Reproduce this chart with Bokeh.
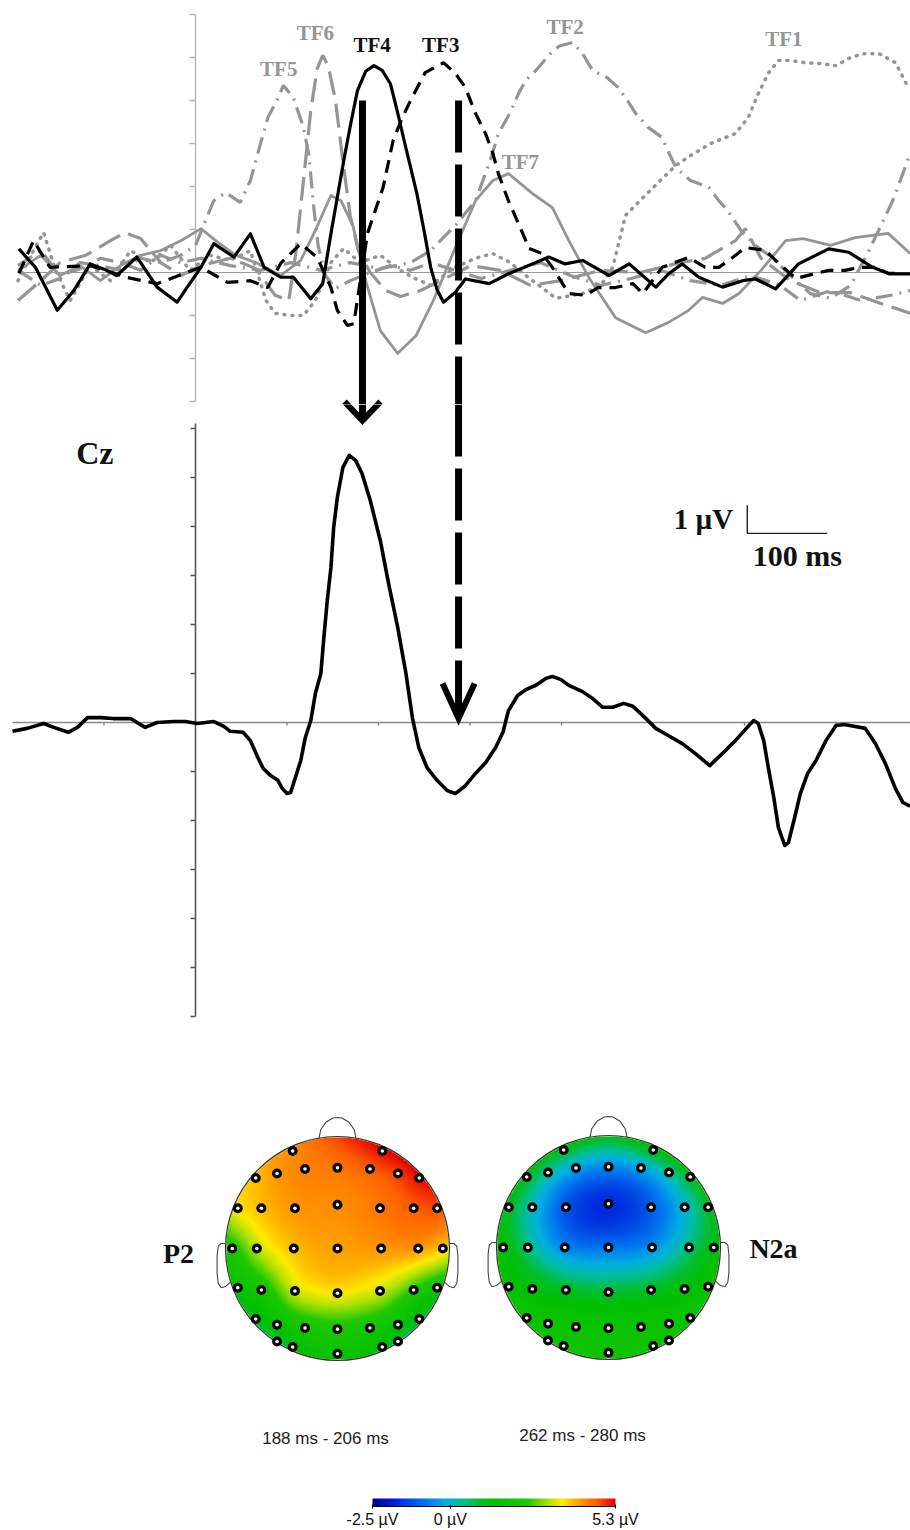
import numpy as np
from bokeh.plotting import figure
from bokeh.layouts import column
from bokeh.models import Range1d, LinearColorMapper
from bokeh.core.properties import value
from bokeh.embed import file_html
from bokeh.resources import INLINE

# ======================= DATA =======================
# Temporal factors (ms, µV), top panel
tf4_t = [-193, -175, -151, -133, -115, -97, -86, -64, -42, -20,
         -9, 6, 20, 42, 60, 75, 93, 107, 126, 139,
         148, 155, 162, 170, 177, 186, 195, 204, 213, 220,
         228, 235, 242, 250, 257, 264, 271, 284, 295, 321,
         342, 368, 386, 404, 423, 452, 474, 503, 517, 532,
         550, 576, 598, 612, 634, 659, 692, 714, 740, 758, 781]
tf4_v = [0.55, 0.12, -0.88, -0.42, 0.20, 0.05, -0.07, 0.36, -0.34, -0.69,
         -0.34, 0.12, 0.67, 0.36, 0.90, 0.12, -0.11, -0.11, -0.61, -0.26,
         0.90, 1.75, 2.60, 3.50, 4.23, 4.68, 4.81, 4.70, 4.39, 3.80,
         3.07, 2.45, 1.83, 0.95, 0.12, -0.40, -0.69, -0.46, -0.15, -0.26,
         -0.03, 0.20, 0.36, 0.20, 0.28, -0.07, 0.20, -0.34, -0.03, 0.20,
         -0.11, -0.34, -0.19, -0.15, -0.38, 0.20, 0.55, 0.47, 0.12, -0.03, -0.03]

tf3_t = [-193, -177, -159, -115, -74, -42, 6, 35, 60, 79,
         93, 115, 133, 148, 155, 166, 173, 188, 205, 216,
         226, 235, 251, 271, 284, 295, 306, 317, 325, 331,
         342, 350, 361, 364, 379, 390, 397, 408, 426, 440,
         459, 478, 489, 510, 539, 557, 572, 587, 601, 623,
         634, 656, 678, 692, 710, 725, 743, 757, 773]
tf3_v = [-0.02, 0.74, 0.12, 0.16, -0.12, -0.26, 0.12, -0.23, -0.19, -0.35,
         0.21, 0.67, 0.35, -0.35, -0.88, -1.23, -1.19, 0.91, 1.98, 3.07,
         3.60, 4.00, 4.65, 4.88, 4.63, 4.30, 3.70, 3.23, 2.77, 2.30,
         1.67, 1.28, 0.74, 0.56, 0.44, 0.12, -0.12, -0.49, -0.53, -0.35,
         -0.35, -0.26, -0.49, 0.12, 0.35, 0.12, 0.12, 0.35, 0.58, 0.51,
         0.28, -0.14, -0.02, 0.05, 0.05, 0.12, 0.12, -0.02, -0.02]

tf6_t = [-194, -169, -148, -120, -93, -77, -60, -38, -16, 6,
         38, 66, 87, 102, 110, 118, 126, 133, 139, 145,
         153, 161, 169, 178, 191, 208, 224, 246, 268, 301,
         333, 366, 399, 443, 486, 530, 557, 590, 601, 618,
         650, 683, 716, 749, 781]
tf6_v = [-0.65, -0.19, 0.23, 0.40, 0.74, 0.93, 0.79, 0.23, -0.07, 0.16,
         0.33, 0.09, -0.53, -0.65, 0.51, 2.14, 3.77, 4.74, 5.05, 4.81,
         4.00, 2.60, 1.33, 0.51, 0.00, -0.42, -0.56, -0.42, -0.19, 0.16,
         0.05, -0.30, -0.19, 0.05, 0.00, 0.23, 0.33, 0.74, 1.02, 0.33,
         -0.19, -0.47, -0.47, -0.72, -0.95]

tf5_t = [-194, -169, -148, -126, -104, -82, -60, -38, -16, 0,
         11, 20, 33, 49, 60, 69, 79, 90, 96, 107,
         118, 124, 129, 134, 142, 153, 169, 191, 213, 235,
         257, 284, 312, 344, 377, 410, 443, 476, 508, 541,
         574, 607, 639, 661, 694, 727, 760, 781]
tf5_v = [0.05, -0.30, -0.14, 0.23, 0.16, 0.05, 0.33, 0.23, 0.40, 0.63,
         1.21, 1.67, 1.86, 1.63, 2.14, 2.84, 3.60, 4.05, 4.35, 4.07,
         3.37, 2.72, 1.56, 0.63, -0.07, -0.37, -0.19, 0.00, 0.16, 0.05,
         0.23, 0.05, -0.14, 0.05, 0.23, -0.07, -0.30, -0.14, 0.05, -0.19,
         -0.30, -0.07, -0.30, -0.65, -0.42, -0.65, -0.53, -0.42]

tf2_t = [-194, -169, -148, -126, -104, -82, -60, -38, -16, 6,
         38, 71, 104, 137, 169, 202, 235, 257, 273, 284,
         306, 322, 331, 344, 353, 361, 372, 386, 397, 412,
         423, 434, 450, 462, 472, 481, 495, 510, 516, 525,
         541, 561, 572, 583, 596, 612, 631, 650, 672, 694,
         716, 736, 749, 762, 773, 781]
tf2_v = [0.16, 0.51, -0.07, 0.09, 0.33, 0.23, 0.05, 0.40, 0.23, 0.33,
         0.16, 0.05, 0.23, 0.05, 0.23, 0.09, 0.23, 0.51, 0.86, 1.09,
         1.67, 2.60, 3.23, 3.72, 4.16, 4.47, 4.70, 5.05, 5.26, 5.35,
         5.09, 4.70, 4.53, 4.30, 4.00, 3.70, 3.37, 3.14, 2.84, 2.44,
         2.14, 1.98, 1.67, 1.40, 0.98, 0.63, 0.33, -0.07, -0.49, -0.60,
         -0.30, 0.51, 1.09, 1.67, 2.30, 2.77]

tf1_t = [-194, -180, -166, -153, -137, -115, -93, -71, -49, -27,
         -6, 16, 38, 60, 77, 87, 104, 118, 131, 148,
         162, 180, 202, 224, 238, 257, 284, 306, 325, 344,
         364, 394, 423, 443, 456, 470, 489, 508, 525, 541,
         563, 590, 604, 615, 626, 637, 650, 667, 683, 700,
         714, 729, 747, 765, 779]
tf1_v = [-0.19, 0.40, 0.93, 0.05, -0.65, 0.16, -0.19, 0.51, 0.23, 0.63,
         0.05, 0.40, 0.28, 0.51, -0.65, -0.95, -1.00, -1.00, -0.65, 0.23,
         0.56, 0.23, 0.40, 0.05, -0.12, -0.30, 0.12, 0.33, 0.44, 0.23,
         -0.12, -0.60, -0.49, -0.30, 0.12, 1.33, 1.74, 2.14, 2.49, 2.72,
         3.00, 3.23, 3.60, 4.16, 4.63, 4.93, 4.93, 4.88, 4.86, 4.81,
         4.98, 5.09, 5.09, 4.88, 4.30]

tf7_t = [-194, -169, -148, -126, -104, -82, -60, -38, -16, 6,
         22, 44, 66, 93, 115, 131, 148, 159, 172, 186,
         202, 221, 241, 260, 284, 306, 325, 342, 368, 390,
         408, 430, 459, 492, 517, 539, 554, 576, 594, 618,
         645, 664, 694, 721, 757, 781]
tf7_v = [0.05, 0.40, -0.07, 0.16, -0.19, 0.16, 0.40, 0.51, 0.74, 1.02,
         0.74, 0.40, 0.23, -0.07, 0.28, 0.98, 1.79, 1.67, 1.09, -0.19,
         -1.35, -1.88, -1.47, -0.65, 0.58, 1.67, 2.14, 2.30, 1.84, 1.51,
         0.74, -0.12, -1.05, -1.40, -1.16, -0.88, -0.58, -0.72, -0.49, 0.05,
         0.74, 0.79, 0.63, 0.81, 0.91, 0.44]

tf_labels = ["TF4", "TF3", "TF6", "TF5", "TF2", "TF1", "TF7"]
tf_label_t = [193, 268, 131, 91, 404, 643, 355]
tf_label_v = [5.28, 5.28, 5.58, 4.74, 5.70, 5.44, 2.56]

# Cz grand average (ms, µV)
cz_t = [-200, -184, -166, -155, -139, -129, -118, -104, -90, -71,
        -55, -42, -24, -11, 2, 20, 31, 38, 52, 60,
        68, 74, 82, 90, 95, 100, 104, 107, 115, 120,
        126, 131, 137, 140, 144, 148, 151, 155, 161, 168,
        175, 182, 191, 202, 211, 221, 230, 237, 244, 253,
        264, 275, 284, 295, 306, 317, 328, 336, 342, 352,
        361, 372, 383, 390, 399, 408, 423, 434, 445, 456,
        468, 478, 489, 503, 517, 532, 546, 562, 576, 590,
        603, 610, 615, 621, 626, 632, 637, 644, 648, 654,
        661, 669, 678, 689, 700, 709, 721, 732, 743, 754,
        765, 773, 781]
cz_v = [-0.18, -0.12, -0.02, -0.10, -0.20, -0.10, 0.10, 0.10, 0.08, 0.08,
        -0.10, 0.00, 0.02, 0.02, -0.02, 0.02, -0.08, -0.18, -0.20, -0.37,
        -0.71, -0.94, -1.08, -1.18, -1.35, -1.45, -1.43, -1.25, -0.78, -0.31,
        0.04, 0.59, 1.00, 1.67, 2.49, 3.16, 3.98, 4.59, 5.20, 5.45,
        5.35, 5.08, 4.53, 3.71, 2.84, 1.94, 1.00, 0.10, -0.51, -0.92,
        -1.18, -1.39, -1.45, -1.29, -1.04, -0.82, -0.51, -0.20, 0.24, 0.55,
        0.67, 0.76, 0.90, 0.94, 0.88, 0.76, 0.63, 0.49, 0.31, 0.31,
        0.39, 0.33, 0.14, -0.12, -0.27, -0.43, -0.63, -0.88, -0.63, -0.37,
        -0.10, 0.04, -0.02, -0.37, -0.92, -1.53, -2.14, -2.51, -2.45, -2.00,
        -1.45, -1.04, -0.78, -0.37, -0.06, -0.04, -0.08, -0.12, -0.43, -0.84,
        -1.35, -1.63, -1.71]

# arrows linking TF peaks to Cz
arrow_t = [182.5, 287.5]        # ms
arrow_top_v = [4.0, 4.0]        # µV (top panel)
arrow_tip_v = [6.16, 0.08]      # µV (Cz panel)

# axis ticks
top_yticks = [-3, -2, -1, 0, 1, 2, 3, 4, 5, 6]
cz_yticks = [-6, -5, -4, -3, -2, -1, 0, 1, 2, 3, 4, 5, 6]
cz_xticks = [-100, 0, 100, 200, 300, 400, 500, 600, 700]

# topographic maps: electrode positions (unit head) and values (µV)
elec_x = [-0.40, 0.40,
          -0.73, -0.54, -0.29, 0.00, 0.29, 0.54, 0.73,
          -0.89, -0.68, -0.38, 0.00, 0.38, 0.68, 0.89,
          -0.94, -0.72, -0.39, 0.00, 0.39, 0.72, 0.94,
          -0.89, -0.68, -0.38, 0.00, 0.38, 0.68, 0.89,
          -0.73, -0.54, -0.29, 0.00, 0.29, 0.54, 0.73,
          -0.54, -0.40, 0.00, 0.40, 0.54]
elec_y = [0.87, 0.87,
          0.63, 0.67, 0.71, 0.72, 0.71, 0.67, 0.63,
          0.36, 0.36, 0.36, 0.39, 0.36, 0.36, 0.36,
          0.00, 0.00, 0.00, 0.00, 0.00, 0.00, 0.00,
          -0.35, -0.37, -0.38, -0.40, -0.38, -0.37, -0.35,
          -0.63, -0.68, -0.71, -0.72, -0.71, -0.68, -0.63,
          -0.83, -0.88, -0.94, -0.88, -0.83]
p2_vals = [4.3, 5.2,
           3.9, 4.2, 4.4, 4.5, 4.7, 4.9, 5.2,
           3.6, 3.9, 4.2, 4.3, 4.5, 4.7, 4.8,
           2.3, 3.2, 3.9, 4.1, 4.2, 4.2, 3.8,
           1.8, 2.1, 3.3, 3.6, 3.3, 2.5, 2.0,
           1.1, 1.7, 2.1, 2.3, 2.1, 1.7, 1.0,
           0.8, 1.4, 1.8, 1.4, 0.8]
n2a_vals = [1.0, 1.1,
            1.0, 0.3, -0.3, -0.6, -0.3, 0.3, 1.0,
            1.0, 0.1, -1.2, -1.7, -1.1, 0.0, 0.9,
            1.3, 0.5, -0.6, -0.8, -0.5, 0.5, 1.2,
            1.6, 1.3, 1.0, 0.9, 1.0, 1.3, 1.6,
            1.8, 1.8, 1.8, 1.8, 1.8, 1.8, 1.8,
            1.9, 1.9, 1.9, 1.9, 1.9]
map_names = ["P2", "N2a"]
map_windows = ["188 ms - 206 ms", "262 ms - 280 ms"]
cbar_low, cbar_high = -2.5, 5.3
cbar_ticks = [-2.5, 0.0, 5.3]
cbar_labels = ["-2.5 µV", "0 µV", "5.3 µV"]

# ======================= LAYOUT =======================
W = 910
HA, HB, HC = 404, 626, 500
X0, X1 = -213.1, 781.4
A_BOT, A_TOP = -3.07, 6.326
B_BOT, B_TOP = -6.286, 6.49
MS_PX = (X1 - X0) / W
A_PX = (A_TOP - A_BOT) / HA
B_PX = (B_TOP - B_BOT) / HB

GRAY = "#959595"
SERIF = value("Liberation Serif")
SANS = value("Liberation Sans")


def make_fig(h, xr, yr):
    p = figure(width=W, height=h, x_range=xr, y_range=yr, output_backend="svg",
               toolbar_location=None, x_axis_location=None, y_axis_location=None,
               min_border=0, min_border_left=0, min_border_right=0,
               min_border_top=0, min_border_bottom=0, outline_line_color=None,
               background_fill_color="white", border_fill_color="white")
    p.grid.visible = False
    return p

# ---------------- top panel ----------------
pA = make_fig(HA, Range1d(X0, X1), Range1d(A_BOT, A_TOP))
pA.segment(x0=[-193], y0=[0], x1=[X1], y1=[0], line_color="#9a9a9a", line_width=1.1)
pA.segment(x0=[0], y0=[top_yticks[0]], x1=[0], y1=[top_yticks[-1]], line_color="#b9b0b0", line_width=1.3)
pA.segment(x0=[-6 * MS_PX] * len(top_yticks), y0=top_yticks, x1=[0] * len(top_yticks), y1=top_yticks,
           line_color="#b9b0b0", line_width=1.3)

pA.line(tf1_t, tf1_v, line_color=GRAY, line_width=3.5, line_dash="1 7", line_cap="round")
pA.line(tf2_t, tf2_v, line_color=GRAY, line_width=3.2, line_dash="17 7 2 7")
pA.line(tf5_t, tf5_v, line_color=GRAY, line_width=3.2, line_dash="17 7 2 7")
pA.line(tf6_t, tf6_v, line_color=GRAY, line_width=3.2, line_dash="24 9")
pA.line(tf7_t, tf7_v, line_color=GRAY, line_width=2.8, line_join="round")
pA.line(tf3_t, tf3_v, line_color="black", line_width=3.2, line_dash="13 8")
pA.line(tf4_t, tf4_v, line_color="black", line_width=3.2, line_join="round")

lab_col = ["#111111", "#111111", GRAY, GRAY, GRAY, GRAY, GRAY]
pA.text(x=tf_label_t, y=tf_label_v, text=tf_labels, text_color=lab_col,
        text_font=SERIF, text_font_style="bold", text_font_size="21px",
        text_align="center", text_baseline="middle")

# ---------------- Cz panel ----------------
pB = make_fig(HB, Range1d(X0, X1), Range1d(B_BOT, B_TOP))
pB.segment(x0=[-200], y0=[0], x1=[X1], y1=[0], line_color="#8a8a8a", line_width=1.5)
pB.segment(x0=[0], y0=[cz_yticks[0]], x1=[0], y1=[6.1], line_color="#555555", line_width=1.6)
pB.segment(x0=[-5 * MS_PX] * len(cz_yticks), y0=cz_yticks, x1=[0] * len(cz_yticks), y1=cz_yticks,
           line_color="#555555", line_width=1.3)
pB.segment(x0=cz_xticks, y0=[0] * len(cz_xticks), x1=cz_xticks, y1=[-3 * B_PX] * len(cz_xticks),
           line_color="#777777", line_width=1.2)
pB.line(cz_t, cz_v, line_color="black", line_width=3.6, line_join="round")
pB.text(x=[-110], y=[5.51], text=["Cz"], text_font=SERIF, text_font_style="bold",
        text_font_size="32px", text_align="center", text_baseline="middle", text_color="#111111")

# scale bar
sb_x, sb_y = 603.0, 3.86
pB.line([sb_x, sb_x, sb_x + 80 * MS_PX], [sb_y + 28 * B_PX, sb_y, sb_y], line_color="#222222", line_width=1.4)
pB.text(x=[sb_x - 14 * MS_PX], y=[sb_y + 14 * B_PX], text=["1 µV"], text_font=SERIF, text_font_style="bold",
        text_font_size="29px", text_align="right", text_baseline="middle", text_color="#111111")
pB.text(x=[sb_x + 50 * MS_PX], y=[sb_y - 22 * B_PX], text=["100 ms"], text_font=SERIF, text_font_style="bold",
        text_font_size="30px", text_align="center", text_baseline="middle", text_color="#111111")

# ---------------- arrows ----------------
wings = [(18, 19), (16, 35)]
dashes = ["solid", "52 12"]
for t, top_v, tip_v, (hw, hh), dsh in zip(arrow_t, arrow_top_v, arrow_tip_v, wings, dashes):
    tip_px_below_B = (B_TOP - tip_v) / B_PX
    tipA = A_BOT - tip_px_below_B * A_PX
    pA.line([t, t], [top_v, tipA], line_color="black", line_width=7, line_dash=dsh)
    pA.line([t - hw * MS_PX, t, t + hw * MS_PX], [tipA + hh * A_PX, tipA, tipA + hh * A_PX],
            line_color="black", line_width=6, line_join="miter")
    pB.line([t, t], [B_TOP, tip_v], line_color="black", line_width=7, line_dash=dsh)
    pB.line([t - hw * MS_PX, t, t + hw * MS_PX], [tip_v + hh * B_PX, tip_v, tip_v + hh * B_PX],
            line_color="black", line_width=6, line_join="miter")

# ---------------- topographic maps ----------------
pC = make_fig(HC, Range1d(0, W), Range1d(0, HC))

stops = [(0.00, (0, 0, 150)), (0.10, (0, 40, 220)), (0.22, (0, 120, 240)), (0.30, (0, 175, 225)),
         (0.36, (0, 190, 160)), (0.44, (0, 190, 40)), (0.50, (0, 192, 0)), (0.64, (30, 200, 0)),
         (0.72, (170, 225, 0)), (0.78, (255, 235, 0)), (0.85, (255, 160, 0)), (0.92, (255, 100, 0)),
         (1.00, (230, 0, 0))]
fr = np.linspace(0, 1, 256)
sf = [s[0] for s in stops]
palette = []
for f in fr:
    rgb = [int(round(np.interp(f, sf, [s[1][k] for s in stops]))) for k in range(3)]
    palette.append("#%02x%02x%02x" % tuple(rgb))
cmap = LinearColorMapper(palette=palette, low=cbar_low, high=cbar_high, nan_color=(0, 0, 0, 0))


def tps(ex, ey, ev, gx, gy):
    ex, ey, ev = map(np.asarray, (ex, ey, ev))
    pts = np.column_stack([ex, ey])
    n = len(ex)
    d = np.sqrt(((pts[:, None, :] - pts[None, :, :]) ** 2).sum(-1))
    K = np.where(d > 0, d ** 2 * np.log(np.maximum(d, 1e-12)), 0.0)
    P = np.column_stack([np.ones(n), ex, ey])
    A = np.zeros((n + 3, n + 3))
    A[:n, :n] = K + 1e-3 * np.eye(n)
    A[:n, n:] = P
    A[n:, :n] = P.T
    b = np.concatenate([ev, np.zeros(3)])
    sol = np.linalg.solve(A, b)
    w, a = sol[:n], sol[n:]
    G = np.column_stack([gx.ravel(), gy.ravel()])
    dg = np.sqrt(((G[:, None, :] - pts[None, :, :]) ** 2).sum(-1))
    Kg = np.where(dg > 0, dg ** 2 * np.log(np.maximum(dg, 1e-12)), 0.0)
    return (Kg @ w + a[0] + a[1] * G[:, 0] + a[2] * G[:, 1]).reshape(gx.shape)


R = 112.0
centers = [(337.0, 282.0), (608.0, 283.0)]
name_pos = [(178.0, 277.0), (773.0, 282.0)]
win_pos = [(325.0, 92.0), (582.0, 95.0)]
N = 225
g = np.linspace(-1, 1, N)
gx, gy = np.meshgrid(g, g)
inside = gx ** 2 + gy ** 2 <= 1.0

nose = ([-0.165, -0.15, -0.10, -0.04, 0.0, 0.04, 0.10, 0.15, 0.165],
        [0.986, 1.06, 1.13, 1.165, 1.17, 1.165, 1.13, 1.06, 0.986])
ear = ([-0.996, -1.04, -1.065, -1.075, -1.075, -1.065, -1.04, -1.0, -0.955],
       [0.045, 0.045, 0.02, -0.06, -0.22, -0.31, -0.35, -0.34, -0.30])

for (cx, cy), vals in zip(centers, [p2_vals, n2a_vals]):
    Z = tps(elec_x, elec_y, vals, gx, gy)
    Z = np.where(inside, Z, np.nan)
    pC.image(image=[Z], x=cx - R, y=cy - R, dw=2 * R, dh=2 * R, color_mapper=cmap)
    pC.ellipse(x=[cx], y=[cy], width=2 * R, height=2 * R, fill_color=None, line_color="#333333", line_width=1.2)
    pC.line([cx + R * v for v in nose[0]], [cy + R * v for v in nose[1]], line_color="#444444", line_width=1.1)
    pC.line([cx + R * v for v in ear[0]], [cy + R * v for v in ear[1]], line_color="#444444", line_width=1.1)
    pC.line([cx - R * v for v in ear[0]], [cy + R * v for v in ear[1]], line_color="#444444", line_width=1.1)
    ex = [cx + R * v for v in elec_x]
    ey = [cy + R * v for v in elec_y]
    pC.scatter(ex, ey, size=10, fill_color="black", line_color=None)
    pC.scatter(ex, ey, size=3.6, fill_color="white", line_color=None)

pC.text(x=[p[0] for p in name_pos], y=[p[1] for p in name_pos], text=map_names, text_font=SERIF,
        text_font_style="bold", text_font_size="28px", text_align="center", text_baseline="middle",
        text_color="#111111")
pC.text(x=[p[0] for p in win_pos], y=[p[1] for p in win_pos], text=map_windows, text_font=SANS,
        text_font_size="17px", text_align="center", text_baseline="middle", text_color="#222222")

# colour bar
cb_x0, cb_x1, cb_y0, cb_h = 372.0, 615.0, 24.0, 8.0
ramp = np.linspace(cbar_low, cbar_high, 256).reshape(1, -1)
pC.image(image=[ramp], x=cb_x0, y=cb_y0, dw=cb_x1 - cb_x0, dh=cb_h, color_mapper=cmap)
pC.segment(x0=[cb_x0], y0=[cb_y0], x1=[cb_x1], y1=[cb_y0], line_color="black", line_width=1.2)
tick_x = [cb_x0 + (v - cbar_low) / (cbar_high - cbar_low) * (cb_x1 - cb_x0) for v in cbar_ticks]
pC.segment(x0=tick_x, y0=[cb_y0 - 2] * 3, x1=tick_x, y1=[cb_y0 + 2] * 3, line_color="black", line_width=1)
pC.text(x=tick_x, y=[11] * 3, text=cbar_labels, text_font=SANS, text_font_size="16px",
        text_align="center", text_baseline="middle", text_color="#111111")

layout = column(pA, pB, pC, spacing=0)
open("out.html", "w").write(file_html(layout, INLINE))
